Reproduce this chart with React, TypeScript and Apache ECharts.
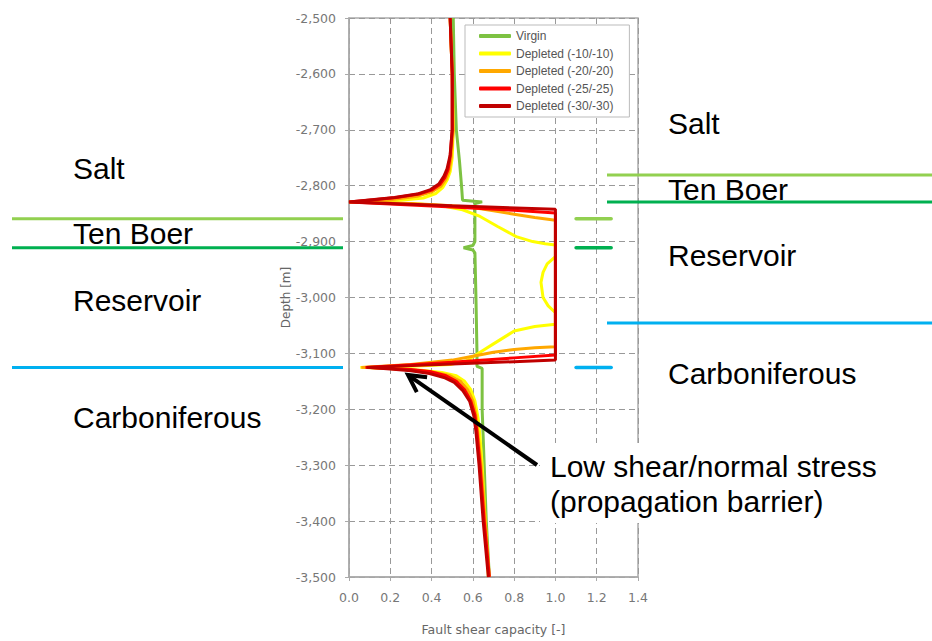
import React, { useEffect, useRef } from 'react';
import * as echarts from 'echarts';

const seriesNames = ['Virgin', 'Depleted (-10/-10)', 'Depleted (-20/-20)', 'Depleted (-25/-25)', 'Depleted (-30/-30)'];
const seriesColors = ['#7DC242', '#FFFF00', '#FFA800', '#FF0000', '#C00000'];

// [fault shear capacity, depth m]
const virgin = [
  [0.505, -2500], [0.51, -2600], [0.52, -2700], [0.535, -2755], [0.545, -2800], [0.55, -2826],
  [0.645, -2829], [0.61, -2832], [0.61, -2900], [0.6, -2907], [0.555, -2911], [0.6, -2915],
  [0.61, -2920], [0.615, -3000], [0.62, -3100], [0.62, -3123], [0.645, -3127], [0.645, -3200],
  [0.655, -3300], [0.665, -3400], [0.68, -3500],
];
const depleted10 = [
  [0.49, -2500], [0.5, -2600], [0.505, -2700], [0.5, -2750], [0.49, -2775], [0.475, -2790],
  [0.455, -2803], [0.42, -2814], [0.36, -2822], [0.25, -2826], [0.1, -2828], [0.0, -2829],
  [0.2, -2831], [0.35, -2833], [0.45, -2836], [0.55, -2843], [0.635, -2855], [0.72, -2873],
  [0.81, -2891], [0.89, -2900], [0.95, -2904], [1.0, -2906], [1.0, -2927], [0.96, -2940],
  [0.94, -2955], [0.93, -2973], [0.94, -3000], [0.965, -3015], [1.0, -3027], [1.0, -3048],
  [0.9, -3052], [0.8, -3060], [0.7, -3083], [0.635, -3098], [0.57, -3113], [0.49, -3120],
  [0.3, -3123], [0.055, -3125], [0.2, -3127], [0.35, -3130], [0.45, -3134], [0.52, -3140],
  [0.56, -3150], [0.59, -3165], [0.61, -3185], [0.625, -3215], [0.635, -3250], [0.645, -3300],
  [0.66, -3400], [0.675, -3500],
];
const depleted20 = [
  [0.49, -2500], [0.5, -2600], [0.505, -2700], [0.495, -2750], [0.485, -2773], [0.47, -2788],
  [0.445, -2801], [0.4, -2811], [0.33, -2819], [0.2, -2825], [0.08, -2828], [0.0, -2829],
  [0.3, -2832], [0.5, -2836], [0.6, -2839], [0.7, -2845], [0.8, -2851], [0.9, -2857], [1.0, -2862],
  [1.0, -3088], [0.9, -3090], [0.8, -3093], [0.7, -3098], [0.6, -3105], [0.5, -3112], [0.3, -3120],
  [0.06, -3125], [0.2, -3127], [0.32, -3130], [0.42, -3134], [0.49, -3140], [0.54, -3150],
  [0.575, -3165], [0.6, -3185], [0.615, -3210], [0.625, -3245], [0.64, -3300], [0.66, -3400],
  [0.68, -3500],
];
const depleted25 = [
  [0.49, -2500], [0.5, -2600], [0.5, -2700], [0.49, -2748], [0.48, -2771], [0.465, -2785],
  [0.44, -2798], [0.4, -2808], [0.34, -2815], [0.23, -2821], [0.12, -2825], [0.0, -2829],
  [0.5, -2838], [0.8, -2844], [1.0, -2849], [1.0, -3103], [0.8, -3108], [0.5, -3116], [0.08, -3125],
  [0.2, -3127], [0.3, -3129], [0.4, -3133], [0.47, -3140], [0.52, -3150], [0.56, -3165],
  [0.59, -3185], [0.61, -3210], [0.62, -3240], [0.635, -3300], [0.655, -3400], [0.68, -3500],
];
const depleted30 = [
  [0.49, -2500], [0.5, -2600], [0.5, -2700], [0.49, -2745], [0.475, -2770], [0.46, -2783],
  [0.435, -2797], [0.395, -2807], [0.33, -2815], [0.22, -2821], [0.11, -2825], [0.0, -2829],
  [0.5, -2836], [1.0, -2842], [1.0, -3112], [0.5, -3119], [0.085, -3125], [0.2, -3128],
  [0.3, -3131], [0.39, -3136], [0.46, -3143], [0.51, -3152], [0.55, -3166], [0.585, -3186],
  [0.605, -3212], [0.615, -3240], [0.63, -3300], [0.65, -3400], [0.675, -3500],
];
const seriesData = [virgin, depleted10, depleted20, depleted25, depleted30];

// horizon depths (top Ten Boer, top reservoir, base reservoir)
const horizonDepths = [-2859, -2911, -3125];
const horizonColors = ['#92D050', '#00B050', '#00B0F0'];

const leftLabels = ['Salt', 'Ten Boer', 'Reservoir', 'Carboniferous'];
const rightLabels = ['Salt', 'Ten Boer', 'Reservoir', 'Carboniferous'];

const axisFont = 'DejaVu Sans';
const slideFont = 'Liberation Sans';

function App() {
  const chartRef = useRef<HTMLDivElement>(null);

  useEffect(() => {
    const chart = echarts.init(chartRef.current, null, { renderer: 'svg' });

    const options = {
      animation: false,
      grid: { left: 349, right: 294, top: 18, bottom: 63, show: true, borderColor: '#aaa', borderWidth: 1.5 },
      legend: {
        data: seriesNames,
        orient: 'vertical',
        left: 465,
        top: 25,
        icon: 'roundRect',
        itemWidth: 32,
        itemHeight: 4,
        itemGap: 5.5,
        padding: [5, 16, 5, 14],
        borderColor: '#bbb',
        borderWidth: 1,
        backgroundColor: '#fff',
        textStyle: { fontSize: 12, color: '#555', fontFamily: slideFont },
      },
      xAxis: {
        type: 'value',
        min: 0,
        max: 1.4,
        interval: 0.2,
        name: 'Fault shear capacity [-]',
        nameLocation: 'middle',
        nameGap: 46,
        nameTextStyle: { color: '#666', fontSize: 12.5, fontFamily: axisFont },
        axisLine: { show: true, onZero: false, lineStyle: { color: '#aaa', width: 1.5 } },
        axisTick: { show: true, length: 4, lineStyle: { color: '#aaa' } },
        axisLabel: { formatter: (v: number) => v.toFixed(1), color: '#777', fontSize: 12.5, margin: 14, fontFamily: axisFont },
        splitLine: { show: true, lineStyle: { type: [6, 4], color: '#999' } },
      },
      yAxis: {
        type: 'value',
        min: -3500,
        max: -2500,
        interval: 100,
        name: 'Depth [m]',
        nameLocation: 'middle',
        nameGap: 49,
        nameTextStyle: { color: '#666', fontSize: 12, fontFamily: axisFont },
        axisLine: { show: true, onZero: false, lineStyle: { color: '#aaa', width: 1.5 } },
        axisTick: { show: true, length: 4, lineStyle: { color: '#aaa' } },
        axisLabel: { formatter: (v: number) => v.toLocaleString('en-US'), color: '#777', fontSize: 12.5, margin: 13, fontFamily: axisFont },
        splitLine: { show: true, lineStyle: { type: [6, 4], color: '#999' } },
      },
      series: seriesData.map((data, i) => ({
        name: seriesNames[i],
        type: 'line',
        data,
        showSymbol: false,
        symbol: 'none',
        color: seriesColors[i],
        lineStyle: { width: 3, color: seriesColors[i] },
        z: 2 + i,
      })),
    };

    chart.setOption(options);

    // horizon lines at the chart's own depth scale
    const hy = horizonDepths.map((d) => chart.convertToPixel({ yAxisIndex: 0 }, d) as number);
    const dashX0 = chart.convertToPixel({ xAxisIndex: 0 }, 1.1) as number;
    const dashX1 = chart.convertToPixel({ xAxisIndex: 0 }, 1.27) as number;

    const textStyle = (text: string) => ({ text, fontSize: 30, fontFamily: slideFont, fill: '#000', verticalAlign: 'middle' });
    const leftY = [168, 233, 300, 417];
    const rightY = [123, 189, 255, 373];
    const rightLineY = [175, 202, 323];

    // arrow
    const tip = [408, 375];
    const tail = [537, 465];
    const len = Math.hypot(tail[0] - tip[0], tail[1] - tip[1]);
    const ux = (tail[0] - tip[0]) / len;
    const uy = (tail[1] - tip[1]) / len;
    const head = (s: number) => [tip[0] + ux * 17 - uy * 9 * s, tip[1] + uy * 17 + ux * 9 * s];

    chart.setOption({
      graphic: [
        ...hy.map((y, i) => ({
          type: 'line', z: 10, shape: { x1: 12, y1: y, x2: 343, y2: y },
          style: { stroke: horizonColors[i], lineWidth: 3 },
        })),
        ...hy.map((y, i) => ({
          type: 'line', z: 10, shape: { x1: dashX0, y1: y, x2: dashX1, y2: y },
          style: { stroke: horizonColors[i], lineWidth: 3.5, lineCap: 'round' },
        })),
        ...rightLineY.map((y, i) => ({
          type: 'line', z: 10, shape: { x1: 607, y1: y, x2: 932, y2: y },
          style: { stroke: horizonColors[i], lineWidth: 3 },
        })),
        ...leftLabels.map((t, i) => ({ type: 'text', z: 11, x: 73, y: leftY[i], style: textStyle(t) })),
        ...rightLabels.map((t, i) => ({ type: 'text', z: 11, x: 668, y: rightY[i], style: textStyle(t) })),
        { type: 'rect', z: 20, shape: { x: 540, y: 443, width: 340, height: 80 }, style: { fill: '#fff' } },
        {
          type: 'text', z: 21, x: 550, y: 449,
          style: { text: 'Low shear/normal stress\n(propagation barrier)', fontSize: 30, lineHeight: 35, fontFamily: slideFont, fill: '#000', verticalAlign: 'top' },
        },
        {
          type: 'line', z: 22, shape: { x1: tail[0], y1: tail[1], x2: tip[0] + ux * 2, y2: tip[1] + uy * 2 },
          style: { stroke: '#000', lineWidth: 4 },
        },
        {
          type: 'polyline', z: 22, shape: { points: [head(1), tip, head(-1)] },
          style: { stroke: '#000', lineWidth: 4, fill: 'none', lineJoin: 'miter' },
        },
      ],
    });

    return () => {
      chart.dispose();
    };
  }, []);

  return <div ref={chartRef} style={{ position: 'fixed', left: 0, top: 0, width: '932px', height: '641px', background: '#fff' }}></div>;
}

export default App;
